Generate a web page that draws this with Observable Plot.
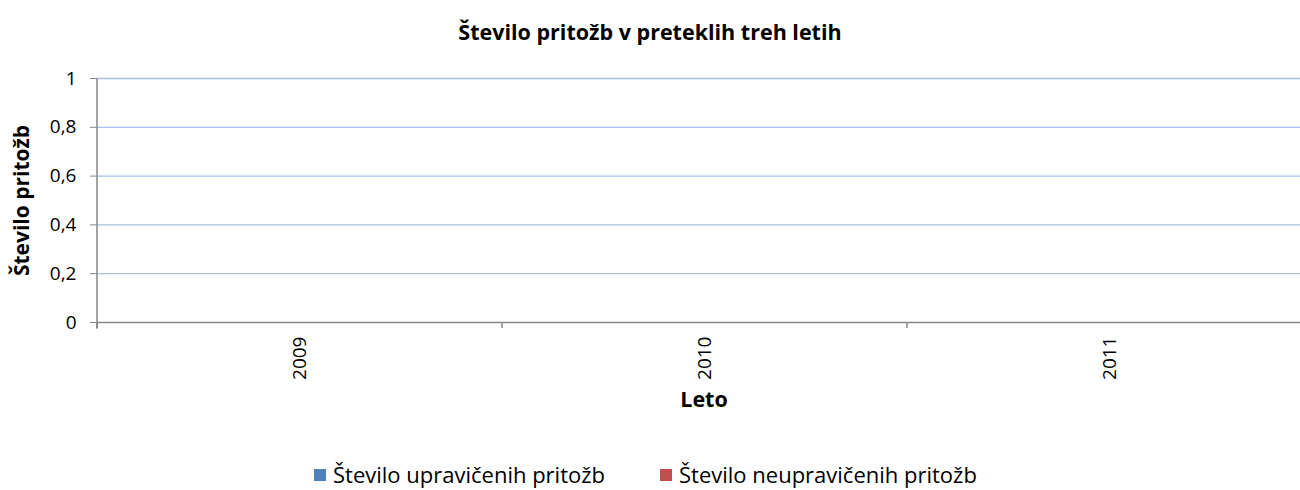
<!DOCTYPE html>
<html>
<head>
<meta charset="utf-8">
<script src="https://cdn.jsdelivr.net/npm/d3@7"></script>
<script src="https://cdn.jsdelivr.net/npm/@observablehq/plot@0.6"></script>
<style>
  html, body { margin: 0; padding: 0; background: #fff; width: 1300px; overflow: hidden; }
  body { font-family: "Open Sans", Lato, sans-serif; color: #000; }
  #title { height: 60px; line-height: 64px; text-align: center; font-weight: bold; font-size: 21.5px; }
  #legend { height: 70px; position: relative; font-size: 22px; }
  .item { position: absolute; top: 39px; height: 30px; line-height: 30px; }
  .sw { position: absolute; top: 10px; width: 12px; height: 12px; }
  .tx { position: absolute; left: 19px; white-space: nowrap; }
</style>
</head>
<body>
<div id="title"></div>
<div id="chart"></div>
<div id="legend"></div>
<script>
const title = "Število pritožb v preteklih treh letih";
const years = ["2009", "2010", "2011"];
const seriesNames = ["Število upravičenih pritožb", "Število neupravičenih pritožb"];
const seriesColors = ["#4f81bd", "#c0504d"];
const upravicene = [0, 0, 0];
const neupravicene = [0, 0, 0];
const yTicks = [0, 0.2, 0.4, 0.6, 0.8, 1];
const yLabel = "Število pritožb";
const xLabel = "Leto";

const data = [];
years.forEach((y, i) => {
  data.push({year: y, series: seriesNames[0], value: upravicene[i]});
  data.push({year: y, series: seriesNames[1], value: neupravicene[i]});
});

document.getElementById("title").textContent = title;

const fmt = d => String(d).replace(".", ",");
const font = "'Open Sans', Lato, sans-serif";

const chart = Plot.plot({
  width: 1300,
  height: 360,
  marginTop: 18,
  marginBottom: 98,
  marginLeft: 96,
  marginRight: -11,
  style: {fontFamily: font, fontSize: "19px", color: "#000", background: "#fff", overflow: "hidden"},
  x: {domain: years, paddingInner: 0.3, paddingOuter: 0.15, label: null},
  y: {domain: [0, 1], label: null},
  color: {domain: seriesNames, range: seriesColors},
  marks: [
    Plot.ruleY(yTicks.filter(d => d > 0), {stroke: "#a9c0e6", strokeWidth: 1.3}),
    Plot.barY(data, {x: "year", y: "value", fill: "series"}),
    Plot.axisY({ticks: yTicks, tickFormat: fmt, tickSize: 6, tickPadding: 14, stroke: "#868686", fill: "#000", fontSize: 19, label: null}),
    Plot.axisX({tickSize: 0, tickRotate: -90, tickPadding: 14, fill: "#000", fontSize: 19, label: null}),
    Plot.ruleY([0], {stroke: "#868686", strokeWidth: 1.5}),
    Plot.ruleX([years[0]], {x: d => d, dx: -202.5, y1: 1, y2: -0.028, stroke: "#868686", strokeWidth: 1.5}),
    Plot.ruleX(years, {x: d => d, dx: -202.5, y1: 0, y2: -0.025, stroke: "#868686", strokeWidth: 1.5}),
    Plot.text([yLabel], {frameAnchor: "left", textAnchor: "middle", rotate: -90, dx: -74, fontWeight: "bold", fontSize: 21, fill: "#000"}),
    Plot.text([xLabel], {frameAnchor: "bottom", dy: 84, fontWeight: "bold", fontSize: 21.5, fill: "#000"})
  ]
});
document.getElementById("chart").appendChild(chart);

const legend = document.getElementById("legend");
const lefts = [314, 660];
seriesNames.forEach((n, i) => {
  const it = document.createElement("div");
  it.className = "item";
  it.style.left = lefts[i] + "px";
  const sw = document.createElement("span");
  sw.className = "sw";
  sw.style.background = seriesColors[i];
  const tx = document.createElement("span");
  tx.className = "tx";
  tx.textContent = n;
  it.appendChild(sw); it.appendChild(tx);
  legend.appendChild(it);
});
</script>
</body>
</html>
